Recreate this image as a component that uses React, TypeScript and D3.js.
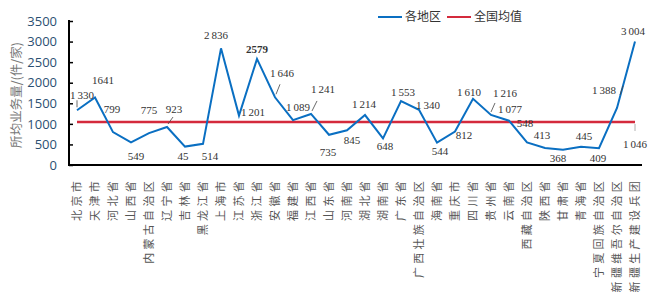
import React, { useRef, useEffect } from 'react';
import * as d3 from 'd3';

// 各地区所均业务量（件/家）
const regions = [
  '北京市', '天津市', '河北省', '山西省', '内蒙古自治区', '辽宁省', '吉林省', '黑龙江省',
  '上海市', '江苏省', '浙江省', '安徽省', '福建省', '江西省', '山东省', '河南省',
  '湖北省', '湖南省', '广东省', '广西壮族自治区', '海南省', '重庆市', '四川省', '贵州省',
  '云南省', '西藏自治区', '陕西省', '甘肃省', '青海省', '宁夏回族自治区', '新疆维吾尔自治区', '新疆生产建设兵团'
];

const values = [
  1330, 1641, 799, 549, 775, 923, 448, 514,
  2836, 1201, 2579, 1646, 1089, 1241, 735, 845,
  1214, 648, 1553, 1340, 544, 812, 1610, 1216,
  1077, 548, 413, 368, 445, 409, 1388, 3004
];

// 图上标注文字（原图中吉林只显示“45”）
const valueLabels = [
  '1 330', '1641', '799', '549', '775', '923', '45', '514',
  '2 836', '1 201', '2579', '1 646', '1 089', '1 241', '735', '845',
  '1 214', '648', '1 553', '1 340', '544', '812', '1 610', '1 216',
  '1 077', '548', '413', '368', '445', '409', '1 388', '3 004'
];

const nationalMean = 1046;
const yTicks = [0, 500, 1000, 1500, 2000, 2500, 3000, 3500];

// 标注相对数据点的偏移
const labelOffsets: [number, number][] = [
  [5, -15], [8, -17], [-1, -23], [5, 14], [0, -23], [7, -18], [-2, 10], [7, 12],
  [-5, -13], [14, -3], [0, -10], [7, -24], [5, -13], [12, -25], [-1, 17], [5, 10],
  [-1, -11], [2, 8], [2, -9], [9, -5], [3, 9], [9, 4], [-4, -7], [14, -22],
  [1, -12], [-2, -19], [-3, -13], [-5, 8], [3, -11], [-1, 10], [-13, -18], [-2, -10]
];

// 引线 [索引, x1, y1, x2, y2]（相对数据点）
const leaders: [number, number, number, number, number][] = [
  [0, 0, -3, 0, -10],
  [5, 1, -3, 6, -10],
  [11, 1, -3, 5, -13],
  [13, 1, -3, 6, -13],
  [23, 0, -3, 4, -12],
  [30, 3, -13, 6, -22]
];

const W = 648;
const H = 292;

export default function App() {
  const svgRef = useRef<SVGSVGElement>(null);

  useEffect(() => {
    if (!svgRef.current) return;
    const svg = d3.select(svgRef.current);
    svg.selectAll('*').remove();

    const x = d3.scaleBand<string>().domain(regions).range([68, 644]).padding(0);
    const y = d3.scaleLinear().domain([0, 3500]).range([165, 21]);
    const cx = (i: number) => (x(regions[i]) as number) + x.bandwidth() / 2;

    // y 轴
    const yAxis = d3.axisLeft(y).tickValues(yTicks).tickSizeInner(-4).tickSizeOuter(0).tickPadding(12).tickFormat(d3.format('d'));
    const gy = svg.append('g').attr('transform', 'translate(69,0)').call(yAxis);
    gy.select('.domain').attr('stroke', '#000').attr('stroke-width', 2).attr('d', `M0,${y(3500) - 1}V${y(0) + 1}`);
    gy.selectAll('.tick line').attr('stroke', '#000').attr('stroke-width', 1.5);
    gy.selectAll('.tick text')
      .attr('fill', '#2b4f72')
      .style('font-family', '"Open Sans", sans-serif')
      .style('font-size', '13px');

    // x 轴线
    svg.append('line')
      .attr('x1', 68).attr('x2', 642).attr('y1', y(0)).attr('y2', y(0))
      .attr('stroke', '#000').attr('stroke-width', 2);

    // 分类标签（竖排）
    svg.append('g').selectAll('text').data(regions).join('text')
      .attr('transform', (d, i) => `translate(${cx(i)},178) rotate(-90)`)
      .attr('text-anchor', 'end')
      .attr('dy', '0.35em')
      .attr('fill', '#555')
      .style('font-family', '"Noto Sans CJK SC", sans-serif')
      .style('font-size', '11px')
      .style('letter-spacing', '3.3px')
      .text(d => d);

    // y 轴标题
    svg.append('text')
      .attr('transform', `translate(17,${(y(0) + y(3500)) / 2 + 2}) rotate(-90)`)
      .attr('text-anchor', 'middle')
      .attr('dy', '0.35em')
      .attr('fill', '#777')
      .style('font-family', '"Noto Sans CJK SC", sans-serif')
      .style('font-size', '12.5px')
      .text('所均业务量/(件/家)');

    // 全国均值线
    svg.append('line')
      .attr('x1', cx(0)).attr('x2', cx(regions.length - 1))
      .attr('y1', y(nationalMean)).attr('y2', y(nationalMean))
      .attr('stroke', '#d42a3c').attr('stroke-width', 2.5);

    // 各地区折线
    const line = d3.line<number>().x((d, i) => cx(i)).y(d => y(d));
    svg.append('path')
      .attr('d', line(values))
      .attr('fill', 'none')
      .attr('stroke', '#0a6fc2')
      .attr('stroke-width', 2)
      .attr('stroke-linejoin', 'miter');

    // 引线
    svg.append('g').selectAll('line').data(leaders).join('line')
      .attr('x1', d => cx(d[0]) + d[1]).attr('y1', d => y(values[d[0]]) + d[2])
      .attr('x2', d => cx(d[0]) + d[3]).attr('y2', d => y(values[d[0]]) + d[4])
      .attr('stroke', '#444').attr('stroke-width', 0.8);

    // 数据标注
    svg.append('g').selectAll('text').data(values).join('text')
      .attr('x', (d, i) => cx(i) + labelOffsets[i][0])
      .attr('y', (d, i) => y(d) + labelOffsets[i][1])
      .attr('dy', '0.35em')
      .attr('text-anchor', 'middle')
      .attr('fill', '#333')
      .style('font-family', '"Liberation Serif", serif')
      .style('font-size', '11px')
      .style('font-weight', (d, i) => (i === 10 ? 'bold' : 'normal'))
      .text((d, i) => valueLabels[i].replace(' ', '\u2009'));

    // 均值标注
    const last = regions.length - 1;
    svg.append('line')
      .attr('x1', cx(last)).attr('x2', cx(last))
      .attr('y1', y(nationalMean) + 2).attr('y2', y(nationalMean) + 9)
      .attr('stroke', '#999').attr('stroke-width', 0.8);
    svg.append('text')
      .attr('x', cx(last)).attr('y', y(nationalMean) + 22)
      .attr('dy', '0.35em')
      .attr('text-anchor', 'middle')
      .attr('fill', '#333')
      .style('font-family', '"Liberation Serif", serif')
      .style('font-size', '11px')
      .text('1\u2009046');

    // 图例
    const legend = [
      { name: '各地区', color: '#0a6fc2', x: 378 },
      { name: '全国均值', color: '#d42a3c', x: 447 }
    ];
    const lg = svg.append('g').selectAll('g').data(legend).join('g')
      .attr('transform', d => `translate(${d.x},17)`);
    lg.append('line').attr('x1', 0).attr('x2', 24).attr('y1', 0).attr('y2', 0)
      .attr('stroke', d => d.color).attr('stroke-width', 2);
    lg.append('text').attr('x', 27).attr('dy', '0.35em')
      .attr('fill', '#333')
      .style('font-family', '"Noto Sans CJK SC", sans-serif')
      .style('font-size', '12px')
      .text(d => d.name);
  }, []);

  return (
    <div style={{ position: 'absolute', left: 0, top: 0, width: W, height: H, background: '#fff' }}>
      <svg ref={svgRef} width={W} height={H} />
    </div>
  );
}
